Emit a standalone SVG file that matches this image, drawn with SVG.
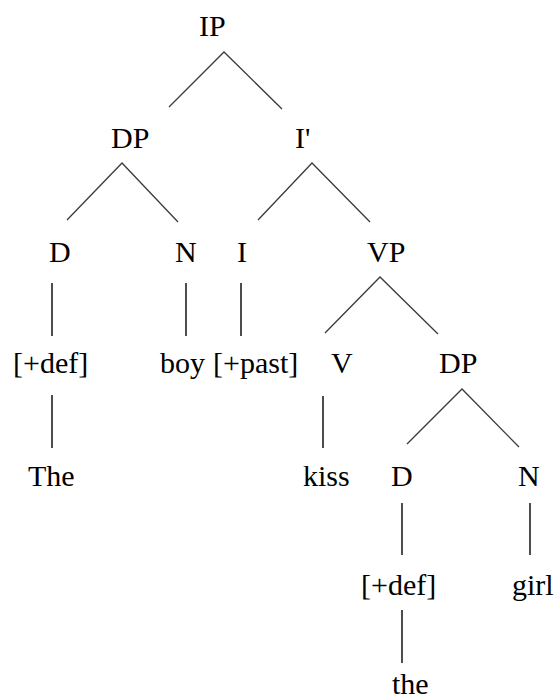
<svg xmlns="http://www.w3.org/2000/svg" width="556" height="700" viewBox="0 0 556 700">
<style>
text{font-family:"Liberation Serif","Times New Roman",serif;font-size:30px;fill:#000}
.d{stroke:#3a3a3a;stroke-width:1.3;fill:none}
.v{stroke:#000;stroke-width:1.4;fill:none}
</style>
<rect width="556" height="700" fill="#fff"/>
<g id="connectors">
<path class="d" d="M169,107 L224,52 L282,109"/>
<path class="d" d="M67,220 L122,163 L178,222"/>
<path class="d" d="M258,220 L312,163 L370,222"/>
<path class="d" d="M325,333 L380,277 L438,334"/>
<path class="d" d="M407,444 L462,389 L519,447"/>
<line class="v" x1="52" y1="283" x2="52" y2="336"/>
<line class="v" x1="186" y1="283" x2="186" y2="336"/>
<line class="v" x1="241" y1="283" x2="241" y2="336"/>
<line class="v" x1="52" y1="395" x2="52" y2="448"/>
<line class="v" x1="323" y1="396" x2="323" y2="448"/>
<line class="v" x1="402" y1="503" x2="402" y2="555"/>
<line class="v" x1="530" y1="503" x2="530" y2="555"/>
<line class="v" x1="402" y1="610" x2="402" y2="663"/>
</g>
<g id="IP"><text x="199" y="36">IP</text></g>
<g id="DP1"><text x="111" y="148">DP</text></g>
<g id="Ibar"><text x="295" y="148">I'</text></g>
<g id="D1"><text x="49" y="262">D</text></g>
<g id="N1"><text x="175" y="262">N</text></g>
<g id="I"><text x="237" y="262">I</text></g>
<g id="VP"><text x="367" y="262">VP</text></g>
<g id="def1"><text x="13" y="373">[+def]</text></g>
<g id="boy"><text x="160" y="373">boy</text></g>
<g id="past"><text x="213" y="373">[+past]</text></g>
<g id="V"><text x="331" y="373">V</text></g>
<g id="DP2"><text x="439" y="373">DP</text></g>
<g id="The"><text x="28" y="486">The</text></g>
<g id="kiss"><text x="303" y="486">kiss</text></g>
<g id="D2"><text x="391" y="486">D</text></g>
<g id="N2"><text x="518" y="486">N</text></g>
<g id="def2"><text x="361" y="595">[+def]</text></g>
<g id="girl"><text x="512" y="595">girl</text></g>
<g id="the"><text x="392" y="694">the</text></g>
</svg>
